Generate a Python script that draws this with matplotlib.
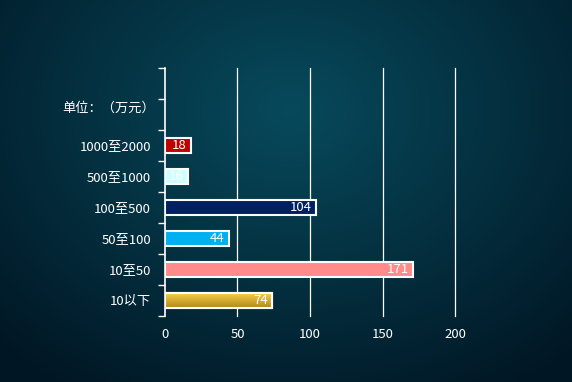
import numpy as np
import matplotlib.pyplot as plt

plt.rcParams['font.family'] = ['Noto Sans CJK SC', 'DejaVu Sans']

# 数据
categories = ['10以下', '10至50', '50至100', '100至500', '500至1000', '1000至2000']
values = [74, 171, 44, 104, 16, 18]
colors = ['#e8b829', '#ff8b8b', '#00b0f0', '#002060', '#ccffff', '#c00000']
x_ticks = [0, 50, 100, 150, 200]

fig = plt.figure(figsize=(5.72, 3.82), dpi=100)

# 背景径向渐变
bg = fig.add_axes([0, 0, 1, 1])
yy, xx = np.mgrid[0:382, 0:572]
r = np.sqrt(((xx - 290) / 420) ** 2 + ((yy - 110) / 330) ** 2)
r = np.clip(r, 0, 1)
c0 = np.array([0x07, 0x4a, 0x5c]) / 255
c1 = np.array([0x01, 0x16, 0x24]) / 255
img = c0[None, None, :] * (1 - r[..., None]) + c1[None, None, :] * r[..., None]
bg.imshow(img, aspect='auto', extent=(0, 1, 0, 1))
bg.axis('off')

ax = fig.add_axes([165 / 572, 1 - 316 / 382, 290 / 572, 248 / 382])
ax.patch.set_alpha(0)

y = np.arange(len(categories))
h = 0.48
bars = ax.barh(y, values, height=h, color=colors, edgecolor='white', linewidth=1.5, zorder=3)

# 第一根柱子用金色渐变
grad = np.linspace(0, 1, 50)[:, None]
top = np.array([0xf8, 0xcf, 0x45]) / 255
bot = np.array([0xb0, 0x88, 0x1c]) / 255
gimg = top[None, None, :] * (1 - grad[..., None]) + bot[None, None, :] * grad[..., None]
im = ax.imshow(np.repeat(gimg, 2, axis=1), aspect='auto',
               extent=(0, values[0], y[0] - h / 2, y[0] + h / 2), zorder=3.5)
im.set_clip_path(bars[0])
ax.barh(y[0], values[0], height=h, color='none', edgecolor='white', linewidth=1.5, zorder=4)

for yi, v in zip(y, values):
    ax.text(v - 3, yi, str(v), color='white', fontsize=9.5, ha='right', va='center', zorder=5)

ax.set_xlim(0, 200)
ax.set_ylim(-0.5, 7.5)
ax.set_xticks(x_ticks)
ax.set_xticklabels([str(t) for t in x_ticks], color='white', fontsize=9.5)
ax.tick_params(axis='x', length=0, pad=9)
ax.set_yticks(y)
ax.set_yticklabels(categories, color='white', fontsize=9.5)
ax.set_yticks(np.arange(-0.5, 8, 1), minor=True)
ax.tick_params(axis='y', which='major', length=0, pad=10)
ax.tick_params(axis='y', which='minor', length=5, color='white', width=1)

for t in x_ticks[1:]:
    ax.axvline(t, color='white', linewidth=0.9, zorder=1, clip_on=False)

for s in ['top', 'right', 'bottom']:
    ax.spines[s].set_visible(False)
ax.spines['left'].set_color('white')
ax.spines['left'].set_linewidth(1.2)

fig.text(109 / 572, 1 - 108 / 382, '单位：（万元）', color='white', fontsize=9.5,
         ha='center', va='center')

fig.savefig('out.png', dpi=100)
